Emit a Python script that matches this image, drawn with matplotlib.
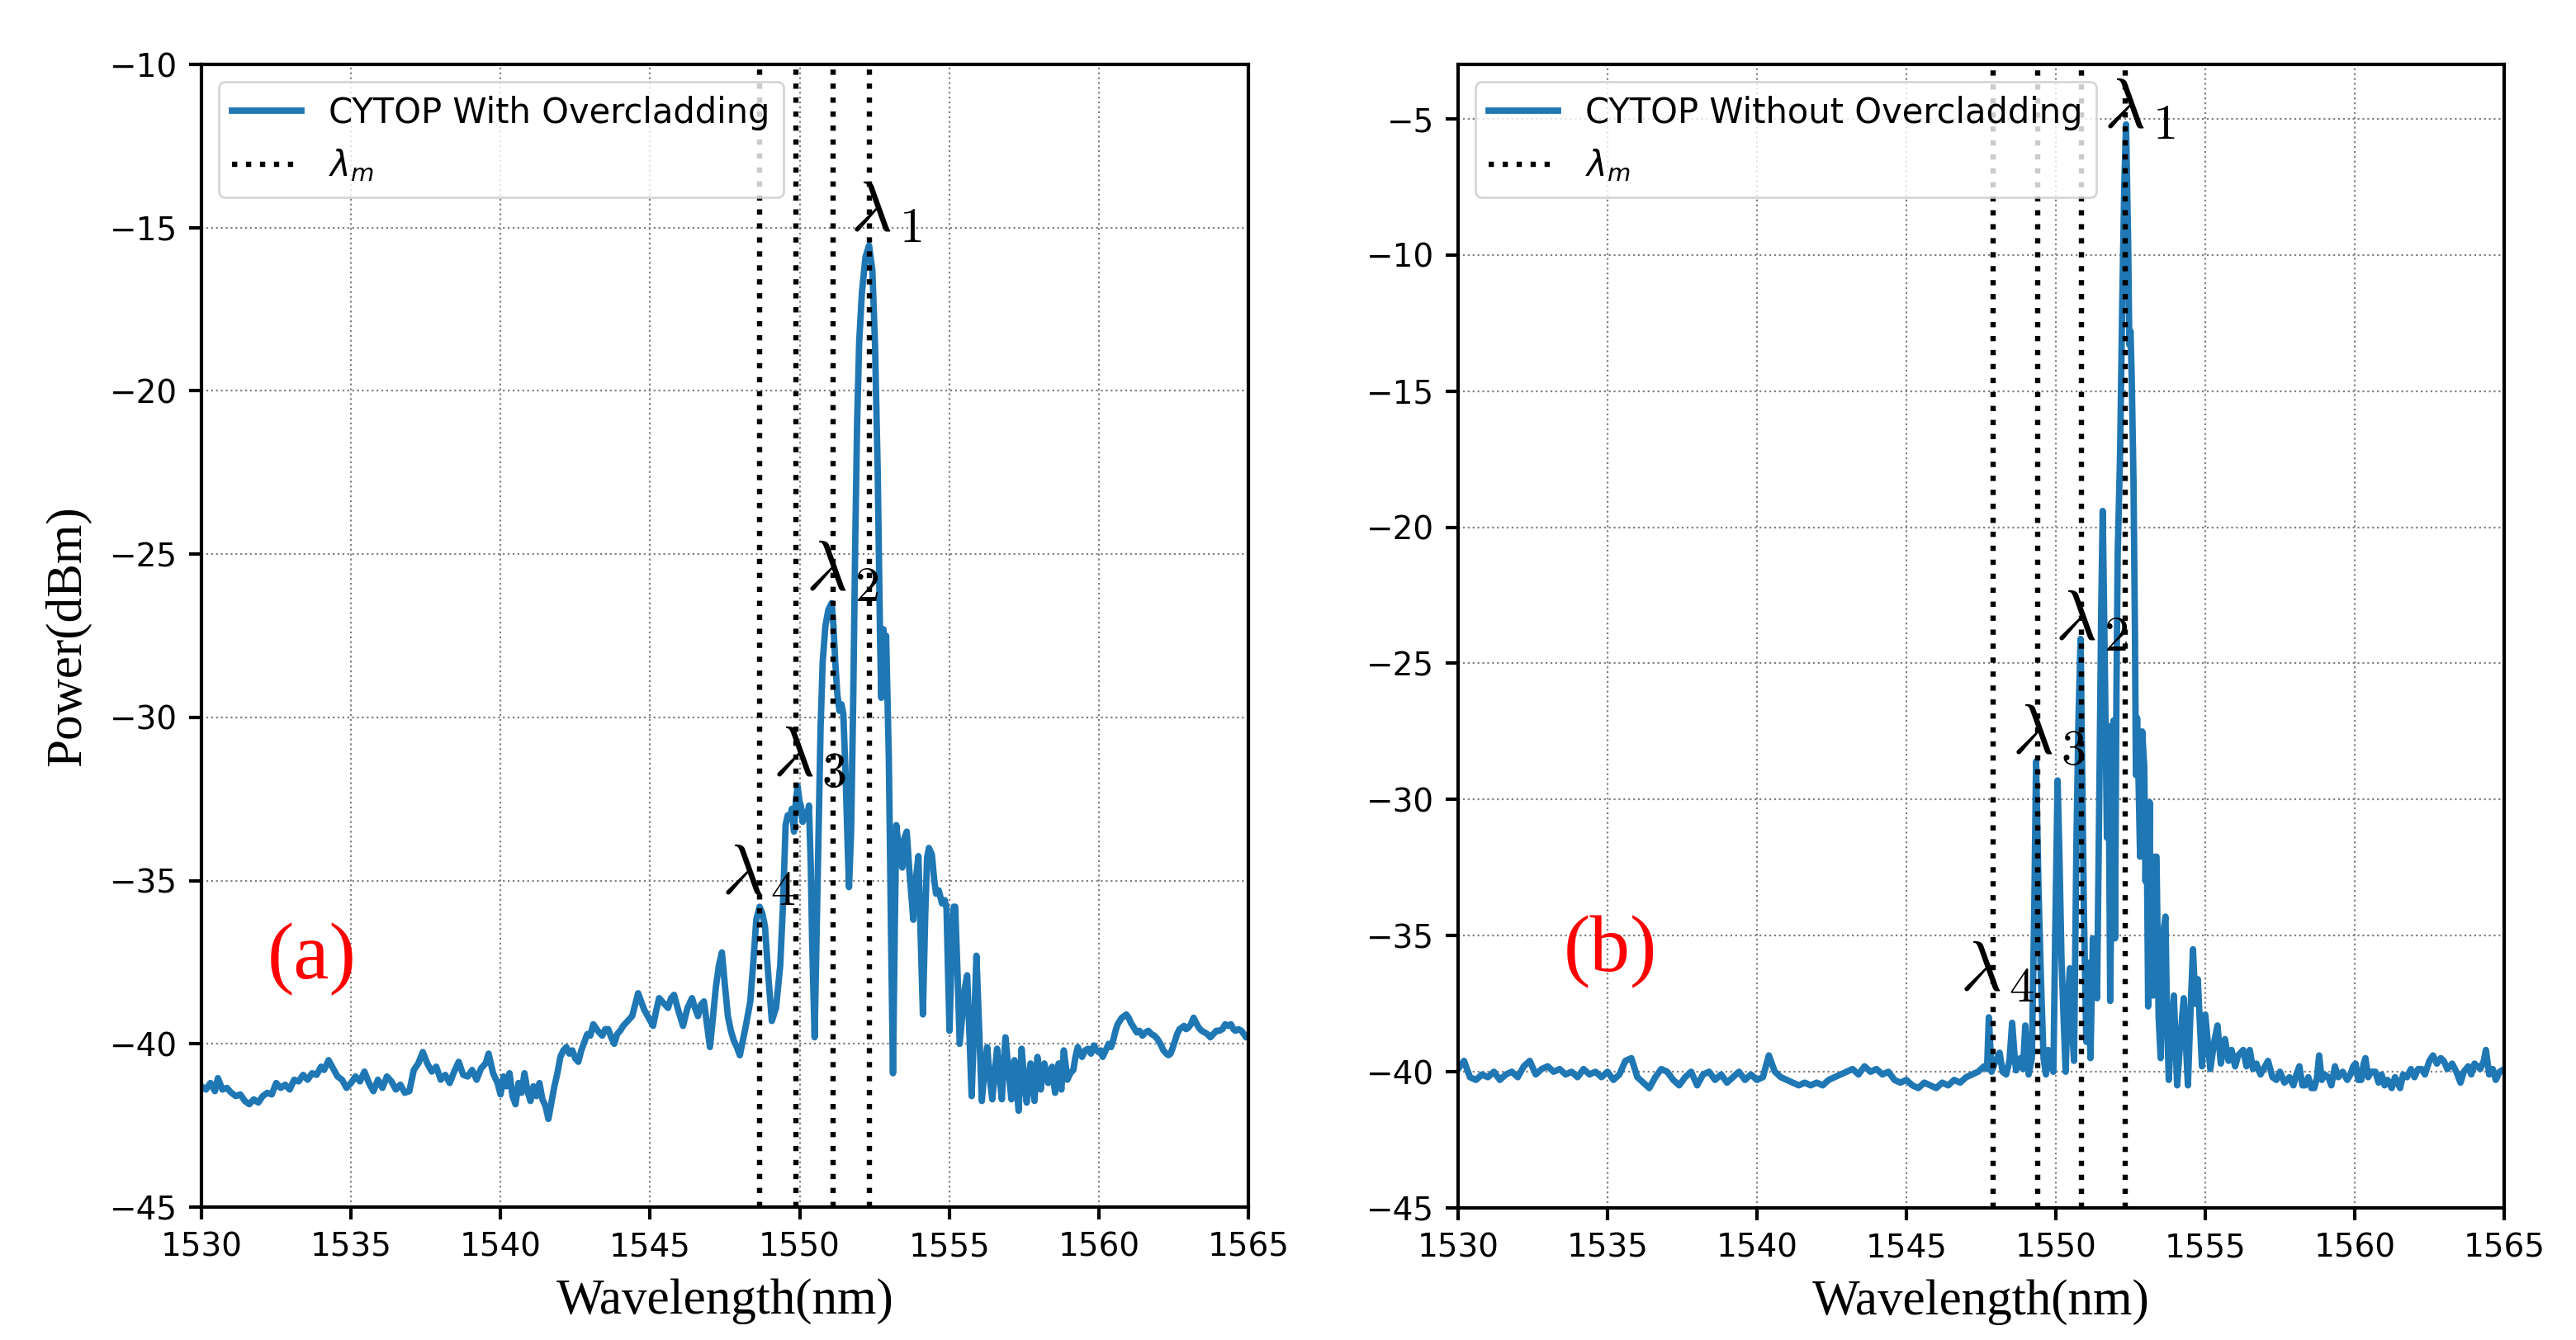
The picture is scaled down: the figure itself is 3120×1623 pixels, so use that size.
import numpy as np
import matplotlib
matplotlib.use('Agg')
import matplotlib.pyplot as plt

# ---- panel (a): CYTOP with overcladding ----
wl_a = [1530.0, 1530.15, 1530.3, 1530.45, 1530.55, 1530.7, 1530.85, 1531.0, 1531.15, 1531.3,
        1531.45, 1531.6, 1531.75, 1531.9, 1532.05, 1532.2, 1532.35, 1532.5, 1532.65, 1532.8,
        1532.95, 1533.1, 1533.25, 1533.4, 1533.55, 1533.7, 1533.85, 1534.0, 1534.1, 1534.25,
        1534.4, 1534.55, 1534.7, 1534.85, 1535.0, 1535.15, 1535.3, 1535.45, 1535.6, 1535.75,
        1535.9, 1536.05, 1536.2, 1536.35, 1536.5, 1536.65, 1536.8, 1536.95, 1537.1, 1537.25,
        1537.4, 1537.55, 1537.7, 1537.85, 1538.0, 1538.15, 1538.3, 1538.45, 1538.6, 1538.75,
        1538.9, 1539.05, 1539.2, 1539.35, 1539.5, 1539.6, 1539.75, 1539.9, 1540.0, 1540.1,
        1540.2, 1540.3, 1540.4, 1540.5, 1540.6, 1540.7, 1540.8, 1540.9, 1541.0, 1541.1,
        1541.2, 1541.3, 1541.4, 1541.5, 1541.6, 1541.7, 1541.8, 1541.9, 1542.0, 1542.1,
        1542.2, 1542.3, 1542.4, 1542.5, 1542.6, 1542.7, 1542.8, 1542.9, 1543.0, 1543.1,
        1543.25, 1543.4, 1543.5, 1543.6, 1543.7, 1543.8, 1543.9, 1544.0, 1544.1, 1544.25,
        1544.4, 1544.5, 1544.6, 1544.7, 1544.8, 1544.95, 1545.1, 1545.2, 1545.3, 1545.45,
        1545.6, 1545.7, 1545.8, 1545.95, 1546.1, 1546.25, 1546.4, 1546.5, 1546.6, 1546.7,
        1546.8, 1546.9, 1547.0, 1547.1, 1547.2, 1547.3, 1547.4, 1547.5, 1547.6, 1547.7,
        1547.8, 1547.9, 1548.0, 1548.1, 1548.2, 1548.35, 1548.45, 1548.55, 1548.66, 1548.75,
        1548.84, 1548.95, 1549.07, 1549.21, 1549.35, 1549.44, 1549.53, 1549.6, 1549.67, 1549.74,
        1549.81, 1549.87, 1549.93, 1550.0, 1550.04, 1550.1, 1550.18, 1550.25, 1550.31, 1550.37,
        1550.42, 1550.5, 1550.57, 1550.64, 1550.7, 1550.77, 1550.86, 1550.96, 1551.07, 1551.13,
        1551.19, 1551.26, 1551.33, 1551.4, 1551.46, 1551.53, 1551.6, 1551.65, 1551.72, 1551.79,
        1551.86, 1551.92, 1551.99, 1552.08, 1552.2, 1552.32, 1552.43, 1552.52, 1552.61, 1552.69,
        1552.73, 1552.77, 1552.8, 1552.85, 1552.89, 1552.98, 1553.06, 1553.12, 1553.18, 1553.23,
        1553.3, 1553.37, 1553.43, 1553.5, 1553.58, 1553.66, 1553.73, 1553.8, 1553.88, 1553.97,
        1554.04, 1554.12, 1554.2, 1554.26, 1554.32, 1554.42, 1554.5, 1554.56, 1554.65, 1554.76,
        1554.85, 1554.91, 1554.96, 1555.01, 1555.08, 1555.15, 1555.2, 1555.28, 1555.35, 1555.45,
        1555.52, 1555.6, 1555.68, 1555.75, 1555.83, 1555.91, 1556.0, 1556.09, 1556.18, 1556.27,
        1556.35, 1556.44, 1556.52, 1556.6, 1556.68, 1556.76, 1556.82, 1556.88, 1556.98, 1557.08,
        1557.13, 1557.18, 1557.25, 1557.32, 1557.37, 1557.42, 1557.5, 1557.59, 1557.65, 1557.72,
        1557.78, 1557.85, 1557.9, 1557.95, 1558.0, 1558.06, 1558.12, 1558.18, 1558.25, 1558.31,
        1558.38, 1558.44, 1558.49, 1558.54, 1558.6, 1558.66, 1558.7, 1558.75, 1558.83, 1558.9,
        1558.95, 1559.05, 1559.15, 1559.22, 1559.3, 1559.37, 1559.44, 1559.54, 1559.64, 1559.74,
        1559.84, 1559.92, 1559.99, 1560.06, 1560.13, 1560.23, 1560.33, 1560.41, 1560.48, 1560.56,
        1560.63, 1560.7, 1560.77, 1560.85, 1560.92, 1561.0, 1561.07, 1561.17, 1561.27, 1561.36,
        1561.46, 1561.56, 1561.66, 1561.76, 1561.86, 1561.96, 1562.06, 1562.16, 1562.26, 1562.33,
        1562.4, 1562.48, 1562.55, 1562.62, 1562.7, 1562.78, 1562.85, 1562.92, 1563.0, 1563.08,
        1563.17, 1563.25, 1563.34, 1563.44, 1563.54, 1563.63, 1563.73, 1563.83, 1563.93, 1564.03,
        1564.13, 1564.23, 1564.32, 1564.42, 1564.5, 1564.57, 1564.67, 1564.77, 1564.85, 1564.92,
        1565.0]
pw_a = [-41.3, -41.4, -41.2, -41.45, -41.05, -41.4, -41.35, -41.5, -41.6, -41.55,
        -41.75, -41.85, -41.7, -41.8, -41.6, -41.5, -41.55, -41.2, -41.35, -41.25,
        -41.4, -41.1, -41.15, -40.95, -41.1, -40.9, -40.95, -40.7, -40.8, -40.5,
        -40.75, -41.0, -41.1, -41.35, -41.2, -41.0, -41.15, -40.85, -41.2, -41.45,
        -41.1, -41.35, -41.0, -41.15, -41.4, -41.25, -41.5, -41.45, -40.8, -40.6,
        -40.25, -40.6, -40.85, -40.7, -41.1, -40.95, -41.2, -40.85, -40.55, -40.95,
        -41.0, -40.8, -41.1, -40.75, -40.6, -40.3, -40.9, -41.2, -41.55, -41.0,
        -41.3, -40.9, -41.6, -41.85, -41.2, -41.5, -40.9, -41.45, -41.75, -41.3,
        -41.6, -41.2, -41.7, -41.9, -42.3, -41.8, -41.3, -40.9, -40.4, -40.2,
        -40.1, -40.3, -40.2, -40.45, -40.55, -40.2, -39.95, -39.7, -39.75, -39.4,
        -39.6, -39.75, -39.55, -39.55, -39.8, -40.0, -39.7, -39.6, -39.45, -39.3,
        -39.15, -38.8, -38.45, -38.7, -38.95, -39.2, -39.45, -39.0, -38.6, -38.75,
        -38.9, -38.6, -38.5, -39.0, -39.45, -38.9, -38.6, -38.9, -39.15, -38.8,
        -38.7, -39.4, -40.1, -39.2, -38.25, -37.6, -37.2, -38.2, -39.15, -39.6,
        -39.9, -40.1, -40.35, -39.9, -39.45, -38.7, -37.5, -36.2, -35.8, -36.0,
        -36.4, -37.9, -39.3, -38.9, -37.6, -35.8, -33.3, -33.0, -33.1, -32.8,
        -33.5, -32.6, -32.1, -32.6, -32.7, -33.2, -32.9, -33.1, -32.7, -34.5,
        -37.0, -39.8, -36.5, -33.1, -30.3, -28.3, -27.2, -26.7, -26.5, -27.2,
        -28.3, -29.3, -29.8, -29.6, -29.9, -31.6, -33.8, -35.2, -33.5, -29.5,
        -24.5, -21.0, -18.5, -17.0, -15.9, -15.55, -16.3, -18.6, -22.5, -27.7,
        -29.4, -27.4, -27.3, -28.2, -27.5, -31.2, -37.0, -40.9, -36.5, -33.3,
        -33.9, -34.3, -34.6, -33.7, -33.5, -34.6, -35.4, -36.2, -35.0, -34.25,
        -36.5, -39.1, -36.0, -34.3, -34.0, -34.2, -35.0, -35.4, -35.3, -35.7,
        -35.6, -35.85, -37.8, -39.6, -37.2, -35.8, -35.8, -37.9, -40.0, -39.0,
        -38.3, -37.9, -39.8, -41.6, -39.5, -37.3, -39.5, -41.75, -40.8, -40.1,
        -41.0, -41.7, -40.9, -40.15, -41.0, -41.7, -40.6, -39.8, -40.8, -41.7,
        -41.0, -40.5, -41.3, -42.05, -41.1, -40.15, -41.0, -41.8, -41.1, -40.6,
        -41.2, -41.75, -41.0, -40.4, -40.9, -41.4, -40.9, -40.6, -40.9, -41.2,
        -40.9, -40.7, -41.1, -41.5, -41.0, -40.6, -41.0, -41.4, -40.2, -40.7,
        -41.1, -40.9, -40.8, -40.4, -40.1, -40.3, -40.4, -40.2, -40.15, -40.3,
        -40.05, -40.2, -40.25, -40.2, -40.4, -40.2, -40.0, -40.1, -39.9, -39.6,
        -39.4, -39.3, -39.2, -39.15, -39.1, -39.2, -39.35, -39.5, -39.65, -39.6,
        -39.75, -39.65, -39.6, -39.7, -39.75, -39.85, -40.0, -40.2, -40.3, -40.35,
        -40.3, -40.1, -39.9, -39.7, -39.55, -39.5, -39.45, -39.55, -39.5, -39.4,
        -39.2, -39.35, -39.5, -39.6, -39.65, -39.7, -39.8, -39.7, -39.6, -39.6,
        -39.55, -39.4, -39.45, -39.4, -39.55, -39.6, -39.55, -39.6, -39.7, -39.8,
        -39.8]
lines_a = [1548.66, 1549.87, 1551.11, 1552.33]
labels_a = [(1552.88, -14.5), (1551.42, -25.5), (1550.31, -31.2), (1548.63, -34.8)]

# ---- panel (b): CYTOP without overcladding ----
# baseline part sampled every 0.2 nm
pw_b_base = [-39.9, -39.6, -40.2, -40.3, -40.1, -40.2, -40.0, -40.3, -40.1, -40.0,
             -40.2, -39.8, -39.6, -40.1, -39.9, -39.8, -40.0, -39.9, -40.1, -40.0,
             -40.2, -39.9, -40.1, -40.0, -40.2, -40.0, -40.3, -40.1, -39.6, -39.5,
             -40.2, -40.4, -40.6, -40.2, -39.9, -40.0, -40.3, -40.5, -40.2, -40.0,
             -40.5, -40.1, -40.0, -40.3, -40.1, -40.4, -40.2, -40.0, -40.3, -40.1,
             -40.3, -40.2, -39.4, -40.0, -40.2, -40.3, -40.4, -40.5, -40.4, -40.5,
             -40.4, -40.5, -40.3, -40.2, -40.1, -40.0, -39.9, -40.1, -39.8, -40.0,
             -39.9, -40.1, -40.0, -40.3, -40.4, -40.3, -40.5, -40.6, -40.4, -40.5,
             -40.6, -40.4, -40.5, -40.3, -40.4, -40.2, -40.1, -40.0, -39.8]
wl_b_base = np.round(np.arange(len(pw_b_base)) * 0.2 + 1530.0, 2)

wl_b_peak = [1547.7, 1547.76, 1547.85, 1547.95, 1548.12, 1548.22, 1548.34, 1548.45, 1548.54, 1548.62,
             1548.67, 1548.81, 1548.9, 1548.98, 1549.09, 1549.2, 1549.28, 1549.34, 1549.42, 1549.5,
             1549.59, 1549.67, 1549.75, 1549.81, 1549.92, 1549.98, 1550.06, 1550.12, 1550.19, 1550.26,
             1550.33, 1550.4, 1550.47, 1550.55, 1550.61, 1550.69, 1550.76, 1550.83, 1550.89, 1550.94,
             1551.02, 1551.09, 1551.16, 1551.24, 1551.31, 1551.38, 1551.46, 1551.52, 1551.57, 1551.64,
             1551.71, 1551.76, 1551.82, 1551.88, 1551.93, 1551.98, 1552.03, 1552.07, 1552.15, 1552.22,
             1552.29, 1552.35, 1552.42, 1552.46, 1552.5, 1552.54, 1552.6, 1552.65, 1552.68, 1552.72,
             1552.76, 1552.82, 1552.89, 1552.96, 1553.0, 1553.04, 1553.09, 1553.14, 1553.18, 1553.26,
             1553.31, 1553.37, 1553.44, 1553.51, 1553.58, 1553.67, 1553.72, 1553.78, 1553.86, 1553.95,
             1554.06, 1554.17, 1554.28, 1554.42, 1554.5, 1554.59, 1554.67, 1554.75, 1554.89, 1555.0,
             1555.17, 1555.3, 1555.41, 1555.52, 1555.66, 1555.78, 1555.88, 1556.0, 1556.1, 1556.27,
             1556.38, 1556.49, 1556.6, 1556.71, 1556.85, 1557.0, 1557.1, 1557.25, 1557.38, 1557.5,
             1557.65, 1557.82, 1557.95, 1558.05, 1558.15, 1558.25, 1558.34, 1558.45, 1558.55, 1558.65,
             1558.74, 1558.81, 1558.9, 1559.0, 1559.12, 1559.22, 1559.34, 1559.45, 1559.6, 1559.75,
             1559.86, 1559.95, 1560.03, 1560.12, 1560.22, 1560.3, 1560.36, 1560.45, 1560.55, 1560.69,
             1560.8, 1560.9, 1561.0, 1561.1, 1561.24, 1561.35, 1561.52, 1561.62, 1561.75, 1561.88,
             1562.0, 1562.12, 1562.24, 1562.35, 1562.5, 1562.62, 1562.75, 1562.88, 1562.98, 1563.1,
             1563.26, 1563.4, 1563.54, 1563.65, 1563.8, 1563.9, 1564.01, 1564.2, 1564.32, 1564.39,
             1564.5, 1564.62, 1564.72, 1564.85, 1565.0]
pw_b_peak = [-39.9, -38.0, -40.0, -39.7, -39.3, -40.0, -40.1, -39.6, -38.2, -39.4,
             -39.95, -39.5, -39.9, -38.3, -40.1, -39.5, -34.0, -28.6, -33.2, -36.5,
             -39.5, -40.1, -39.2, -39.7, -40.0, -35.0, -29.3, -32.0, -35.8, -38.0,
             -40.0, -37.5, -36.2, -38.5, -39.6, -31.6, -27.0, -24.1, -29.5, -34.1,
             -38.9, -36.0, -39.5, -35.1, -36.5, -37.3, -29.4, -23.0, -19.4, -25.0,
             -31.4, -27.3, -37.4, -31.0, -27.1, -35.1, -26.0, -21.0, -17.4, -12.0,
             -7.5, -5.2, -9.5, -13.3, -12.8, -14.5, -18.3, -24.0, -29.1, -27.0,
             -28.8, -32.1, -27.5, -28.8, -33.0, -30.9, -37.6, -30.1, -36.7, -37.2,
             -32.1, -32.1, -38.0, -39.5, -35.0, -34.3, -38.0, -40.3, -38.5, -37.2,
             -40.5, -38.8, -37.3, -40.5, -38.0, -35.5, -37.5, -36.6, -39.8, -37.9,
             -39.9, -38.9, -38.3, -39.7, -38.8, -39.6, -39.2, -39.8, -39.4, -39.2,
             -39.8, -39.2, -39.9, -39.7, -40.1, -39.8, -39.6, -40.2, -40.3, -40.0,
             -40.4, -40.2, -40.5, -40.1, -39.8, -40.5, -40.5, -40.2, -40.6, -40.6,
             -40.2, -39.4, -40.3, -40.1, -40.2, -40.5, -39.8, -40.2, -40.0, -40.3,
             -40.1, -39.8, -39.7, -40.3, -40.3, -39.7, -39.5, -40.2, -40.0, -40.0,
             -40.4, -40.1, -40.5, -40.3, -40.6, -40.2, -40.6, -40.1, -40.2, -39.9,
             -40.2, -39.9, -39.9, -40.1, -39.6, -39.4, -39.7, -39.5, -39.6, -39.9,
             -39.7, -40.0, -40.4, -40.0, -39.8, -40.1, -39.7, -39.9, -39.6, -39.2,
             -40.1, -39.9, -40.3, -40.0, -39.9]
lines_b = [1547.90, 1549.39, 1550.85, 1552.32]
labels_b = [(1552.79, -4.6), (1551.19, -23.4), (1549.75, -27.6), (1548.04, -36.3)]

wl_b = list(wl_b_base) + wl_b_peak
pw_b = pw_b_base + pw_b_peak

fig = plt.figure(figsize=(15.6, 8.115), dpi=200)
ax_a = fig.add_axes([0.0782, 0.0992, 0.4064, 0.8527])
ax_b = fig.add_axes([0.566, 0.0986, 0.4061, 0.8533])

panels = [
    (ax_a, wl_a, pw_a, lines_a, labels_a, 'CYTOP With Overcladding', (-45, -10), '(a)', (1533.7, -37.4)),
    (ax_b, wl_b, pw_b, lines_b, labels_b, 'CYTOP Without Overcladding', (-45, -3), '(b)', (1535.1, -35.6)),
]

for ax, wl, pw, lines, labels, name, ylim, tag, tag_pos in panels:
    ax.plot(wl, pw, color='#1f77b4', lw=2.8, label=name)
    for i, x in enumerate(lines):
        ax.axvline(x, color='black', ls=':', lw=2.3, label=r'$\lambda_m$' if i == 0 else None)
    for k, (x, y) in enumerate(labels):
        ax.text(x, y, r'$\lambda_{\,%d}$' % (k + 1), fontsize=31, math_fontfamily='cm',
                ha='center', va='center')
    ax.text(tag_pos[0], tag_pos[1], tag, color='red', fontsize=35,
            family='Liberation Serif', ha='center', va='center')
    ax.set_xlim(1530, 1565)
    ax.set_ylim(*ylim)
    ax.set_xticks(np.arange(1530, 1566, 5))
    ax.set_yticks([v for v in range(-45, int(ylim[1]) + 1) if v % 5 == 0])
    ax.grid(True, ls=':', color='gray', lw=0.8)
    ax.tick_params(labelsize=14, length=5.5, width=1.5, pad=5)
    for s in ax.spines.values():
        s.set_linewidth(1.5)
    ax.set_xlabel('Wavelength(nm)', family='Liberation Serif', fontsize=22, labelpad=7)
    ax.legend(loc='upper left', fontsize=15)

ax_a.set_ylabel('Power(dBm)', family='Liberation Serif', fontsize=22, labelpad=8)

fig.savefig('out.png', dpi=200)
